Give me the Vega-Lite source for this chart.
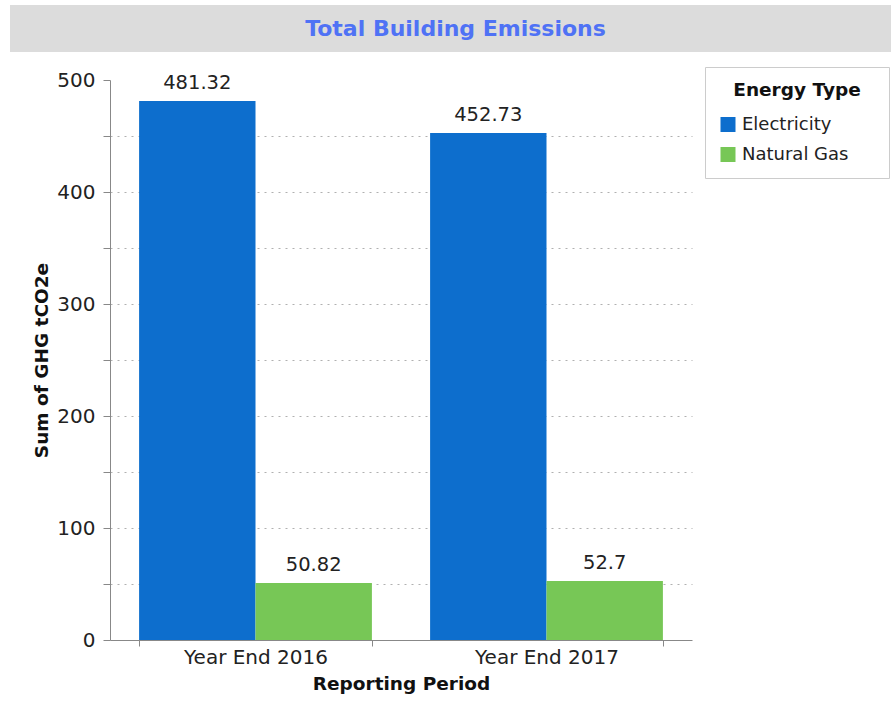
{
  "$schema": "https://vega.github.io/schema/vega-lite/v6.json",
  "padding": {"left": 10, "top": 5, "right": 0, "bottom": 5},
  "background": "white",
  "config": {"font": "DejaVu Sans", "view": {"stroke": null}},
  "spacing": 18,
  "vconcat": [
    {
      "width": 881,
      "height": 47,
      "view": {"fill": "#dcdcdc", "stroke": null},
      "data": {"values": [{"title": "Total Building Emissions"}]},
      "mark": {"type": "text", "font": "DejaVu Sans", "fontSize": 22, "fontWeight": "bold", "color": "#4f72f5", "baseline": "middle", "align": "center", "dx": 5},
      "encoding": {"text": {"field": "title", "type": "nominal"}}
    },
    {
      "spacing": 18,
      "hconcat": [
        {
          "width": 4,
          "height": 1,
          "view": {"stroke": null},
          "data": {"values": []},
          "mark": {"type": "point", "opacity": 0},
          "encoding": {}
        },
        {
          "width": 582,
          "height": 560,
          "data": {
            "values": [
              {"period": "Year End 2016", "type": "Electricity", "value": 481.32},
              {"period": "Year End 2016", "type": "Natural Gas", "value": 50.82},
              {"period": "Year End 2017", "type": "Electricity", "value": 452.73},
              {"period": "Year End 2017", "type": "Natural Gas", "value": 52.7}
            ]
          },
          "encoding": {
            "x": {
              "field": "period",
              "type": "nominal",
              "title": "Reporting Period",
              "scale": {"paddingInner": 0.2, "paddingOuter": 0.1},
              "axis": {
                "labelAngle": 0,
                "tickBand": "extent",
                "tickSize": 6,
                "tickColor": "#888888",
                "domainColor": "#888888",
                "labelFontSize": 20,
                "labelColor": "#222222",
                "labelPadding": 1,
                "titleFontSize": 18.5,
                "titleFontWeight": "bold",
                "titleColor": "#111111",
                "titlePadding": 7
              }
            },
            "xOffset": {"field": "type", "type": "nominal", "sort": ["Electricity", "Natural Gas"], "scale": {"paddingInner": 0, "paddingOuter": 0}},
            "y": {
              "field": "value",
              "type": "quantitative",
              "title": "Sum of GHG tCO2e",
              "scale": {"domain": [0, 500], "nice": false},
              "axis": {
                "values": [0, 50, 100, 150, 200, 250, 300, 350, 400, 450, 500],
                "labelExpr": "datum.value % 100 === 0 ? datum.label : ''",
                "grid": true,
                "gridDash": [2, 5],
                "gridColor": "#b0b0b0",
                "gridOpacity": {"condition": {"test": "datum.value === 0 || datum.value === 500", "value": 0}, "value": 1},
                "tickSize": 7,
                "tickColor": "#888888",
                "domainColor": "#888888",
                "labelFontSize": 20,
                "labelColor": "#222222",
                "labelPadding": 8,
                "titleFontSize": 18.5,
                "titleFontWeight": "bold",
                "titleColor": "#111111",
                "titlePadding": 5
              }
            }
          },
          "layer": [
            {
              "mark": {"type": "bar"},
              "encoding": {
                "color": {
                  "field": "type",
                  "type": "nominal",
                  "sort": ["Electricity", "Natural Gas"],
                  "scale": {"domain": ["Electricity", "Natural Gas"], "range": ["#0d6ecd", "#77c756"]},
                  "legend": {
                    "orient": "none",
                    "legendX": 695,
                    "legendY": 62,
                    "title": "Energy Type",
                    "titleFontSize": 18.5,
                    "titleFontWeight": "bold",
                    "titleAnchor": "middle",
                    "titleColor": "#111111",
                    "titlePadding": 16,
                    "labelFontSize": 18,
                    "labelColor": "#222222",
                    "labelOffset": 5,
                    "labelExpr": "datum.label + '\u2800\u2800'",
                    "symbolType": "square",
                    "symbolSize": 225,
                    "symbolStrokeWidth": 0,
                    "rowPadding": 12,
                    "strokeColor": "#cccccc",
                    "fillColor": "white",
                    "padding": 14
                  }
                }
              }
            },
            {
              "mark": {"type": "text", "baseline": "alphabetic", "dy": -12, "fontSize": 19.5, "color": "#222222"},
              "encoding": {"text": {"field": "value", "type": "nominal"}}
            }
          ]
        }
      ]
    }
  ]
}
